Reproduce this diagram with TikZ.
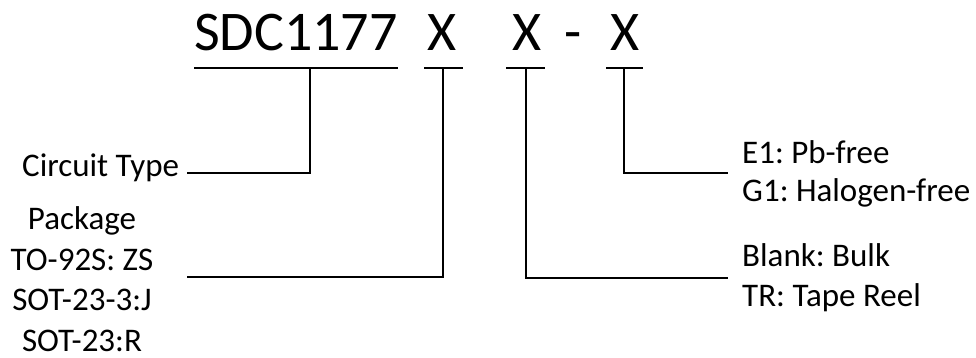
\documentclass[tikz,border=0pt]{standalone}
\usepackage{fontspec}
\setmainfont{Carlito}
\frenchspacing
\begin{document}
\begin{tikzpicture}[x=1pt,y=-1pt,
  conn/.style={line width=2.6pt,line cap=rect,line join=miter},
  titletxt/.style={inner sep=0pt,font=\fontsize{56}{60}\selectfont},
  lbl/.style={inner sep=0pt,font=\fontsize{33}{40}\selectfont},
]
\useasboundingbox (0,0) rectangle (976,358);
% title parts
\node[titletxt,anchor=base west] (t0) at (194,51) {SDC1177};
\node[titletxt,anchor=base] (t1) at (442,51) {X};
\node[titletxt,anchor=base] (t2) at (527,51) {X};
\node[titletxt,anchor=base] (td) at (573,51) {-};
\node[titletxt,anchor=base] (t3) at (625,51) {X};
% bars
\coordinate (b0l) at (195,68); \coordinate (b0r) at (397,68); \coordinate (b0) at (310,68);
\coordinate (b1l) at (425,68); \coordinate (b1r) at (462,68); \coordinate (b1) at (443,68);
\coordinate (b2l) at (507,68); \coordinate (b2r) at (544,68); \coordinate (b2) at (526,68);
\coordinate (b3l) at (607,68); \coordinate (b3r) at (642,68); \coordinate (b3) at (624,68);
\draw[conn] (b0l) -- (b0r);
\draw[conn] (b1l) -- (b1r);
\draw[conn] (b2l) -- (b2r);
\draw[conn] (b3l) -- (b3r);
% labels
\node[lbl,anchor=base west] (ct) at (22,177) {Circuit Type};
\node[lbl,align=center,font=\fontsize{33}{40.5}\selectfont] (pk) at (82,279) {Package\\TO-92S: ZS\\SOT-23-3:J\\SOT-23:R};
\node[lbl,align=left,anchor=west,font=\fontsize{33}{38}\selectfont] (pf) at (742,174) {E1: Pb-free\\G1: Halogen-free};
\node[lbl,align=left,anchor=west,font=\fontsize{33}{40}\selectfont] (tr) at (742,278) {Blank: Bulk\\TR: Tape Reel};
% connector ends
\coordinate (ce) at (188,173);
\coordinate (pe) at (188,277);
\coordinate (fe) at (727,173);
\coordinate (re) at (727,278);
\draw[conn] (b0) |- (ce);
\draw[conn] (b1) |- (pe);
\draw[conn] (b2) |- (re);
\draw[conn] (b3) |- (fe);
\end{tikzpicture}
\end{document}
